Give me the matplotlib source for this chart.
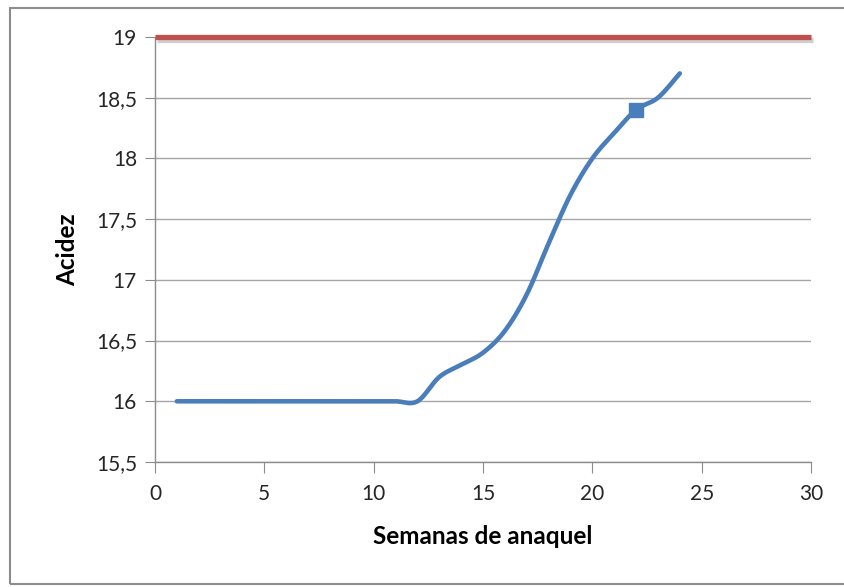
import numpy as np
import matplotlib
matplotlib.use("Agg")
import matplotlib.pyplot as plt
import matplotlib.patheffects as pe
from matplotlib.patches import Rectangle
from matplotlib.ticker import FuncFormatter

# acidez medida cada semana
semanas = list(range(1, 25))
acidez = [16.0, 16.0, 16.0, 16.0, 16.0, 16.0, 16.0, 16.0, 16.0, 16.0, 16.0, 16.0,
          16.2, 16.3, 16.4, 16.58, 16.88, 17.3, 17.7, 18.0, 18.21, 18.4, 18.5, 18.7]
semana_marcada = 22
limite = 19.0
limite_x = [0, 30]

plt.rcParams['font.family'] = ['Lato', 'DejaVu Sans']


def suavizar(x, y, n=30):
    # curva tipo Excel: bezier con puntos de control a 1/6 de los vecinos
    x = np.asarray(x, float)
    y = np.asarray(y, float)
    px = np.concatenate([[x[0]], x, [x[-1]]])
    py = np.concatenate([[y[0]], y, [y[-1]]])
    xs, ys = [], []
    t = np.linspace(0, 1, n)
    for i in range(1, len(px) - 2):
        p0 = np.array([px[i], py[i]])
        p3 = np.array([px[i + 1], py[i + 1]])
        p1 = p0 + (np.array([px[i + 1], py[i + 1]]) - np.array([px[i - 1], py[i - 1]])) / 6
        p2 = p3 - (np.array([px[i + 2], py[i + 2]]) - np.array([px[i], py[i]])) / 6
        b = ((1 - t) ** 3)[:, None] * p0 + (3 * (1 - t) ** 2 * t)[:, None] * p1 \
            + (3 * (1 - t) * t ** 2)[:, None] * p2 + (t ** 3)[:, None] * p3
        xs.extend(b[:, 0])
        ys.extend(b[:, 1])
    return np.array(xs), np.array(ys)


fig = plt.figure(figsize=(8.44, 5.87), dpi=100)
ax = fig.add_axes([155 / 844, 1 - 462 / 587, 656 / 844, 425 / 587])

# marco del grafico
fig.patches.append(Rectangle((10 / 844, 1 - 584 / 587), 1.2, 576 / 587,
                             transform=fig.transFigure, fill=False,
                             edgecolor='#8c8c8c', linewidth=1.5))

ax.set_xlim(0, 30)
ax.set_ylim(15.5, 19)
ax.set_xticks(np.arange(0, 31, 5))
ax.set_yticks(np.arange(15.5, 19.01, 0.5))
ax.yaxis.set_major_formatter(FuncFormatter(lambda v, p: f"{v:g}".replace('.', ',')))
ax.grid(axis='y', color='#a6a6a6', linewidth=1)
ax.set_axisbelow(True)
for s in ['top', 'right']:
    ax.spines[s].set_visible(False)
for s in ['left', 'bottom']:
    ax.spines[s].set_color('#8c8c8c')
    ax.spines[s].set_linewidth(1)
ax.tick_params(axis='y', length=7, color='#8c8c8c', pad=6, labelsize=15, labelcolor='#262626')
ax.tick_params(axis='x', length=8, color='#8c8c8c', pad=8, labelsize=15, labelcolor='#262626')

# linea limite
ax.plot(limite_x, [limite, limite], color='#c0504d', linewidth=3.8, solid_capstyle='butt',
        clip_on=False, zorder=4,
        path_effects=[pe.SimpleLineShadow(offset=(1.5, -2.5), alpha=0.25, shadow_color='#404040'),
                      pe.Normal()])

xs, ys = suavizar(semanas, acidez)
ax.plot(xs, ys, color='#4a7ebb', linewidth=3.3, solid_capstyle='round', zorder=5)
i = semanas.index(semana_marcada)
ax.plot([semanas[i]], [acidez[i]], 's', color='#4a7ebb', markersize=10, zorder=6)

ax.set_xlabel('Semanas de anaquel', fontsize=17.5, fontweight='bold', labelpad=15)
ax.set_ylabel('Acidez', fontsize=17.5, fontweight='bold', labelpad=12)

fig.savefig('out.png', dpi=100)
